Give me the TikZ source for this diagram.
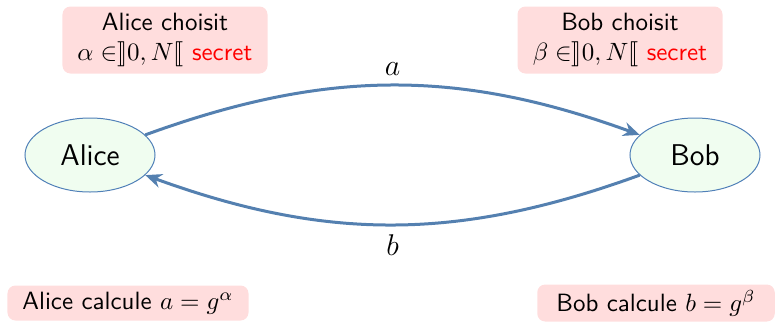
\documentclass[tikz,border=0pt]{standalone}
\usepackage{stmaryrd}
\usetikzlibrary{shapes.geometric, arrows.meta, positioning}

\definecolor{notepink}{RGB}{255,221,221}
\definecolor{personfill}{RGB}{240,253,240}
\definecolor{personedge}{RGB}{80,128,184}
\definecolor{arrowblue}{RGB}{84,128,176}

\begin{document}
\begin{tikzpicture}[
        x=0.4pt, y=-0.4pt, font=\sffamily,
        person/.style={ellipse, draw=personedge, fill=personfill, minimum width=52pt, minimum height=29.6pt, font=\sffamily\large},
        note/.style={rectangle, rounded corners=3.2pt, fill=notepink, align=center, inner sep=2pt},
        arrow/.style={-{Stealth[length=6.6pt, width=5.6pt]}, line width=1.2pt, draw=arrowblue}
    ]
    \useasboundingbox (0,0) rectangle (775,321);

    % Nodes
    \node (alice) [person] at (90,155) {Alice};
    \node (bob) [person] at (695,155) {Bob};

    \node (choixa) [note, minimum width=82pt, minimum height=26.8pt] at (165,40) {Alice choisit\\$\alpha \in \rrbracket 0, N \llbracket$ \textcolor{red}{secret}};
    \node (choixb) [note, minimum width=82pt, minimum height=26.8pt] at (620,40) {Bob choisit\\$\beta \in \rrbracket 0, N \llbracket$ \textcolor{red}{secret}};

    \node (calcula) [note, minimum width=96.4pt, minimum height=14pt] at (128,303) {Alice calcule $a = g^\alpha$};
    \node (calculb) [note, minimum width=95pt, minimum height=14.8pt] at (656,303) {Bob calcule $b = g^\beta$};

    % Connections
    \draw [arrow] (alice) to[bend left=20] node[above, font=\large] {$a$} (bob);
    \draw [arrow] (bob) to[bend left=20] node[below, font=\large] {$b$} (alice);

\end{tikzpicture}
\end{document}
